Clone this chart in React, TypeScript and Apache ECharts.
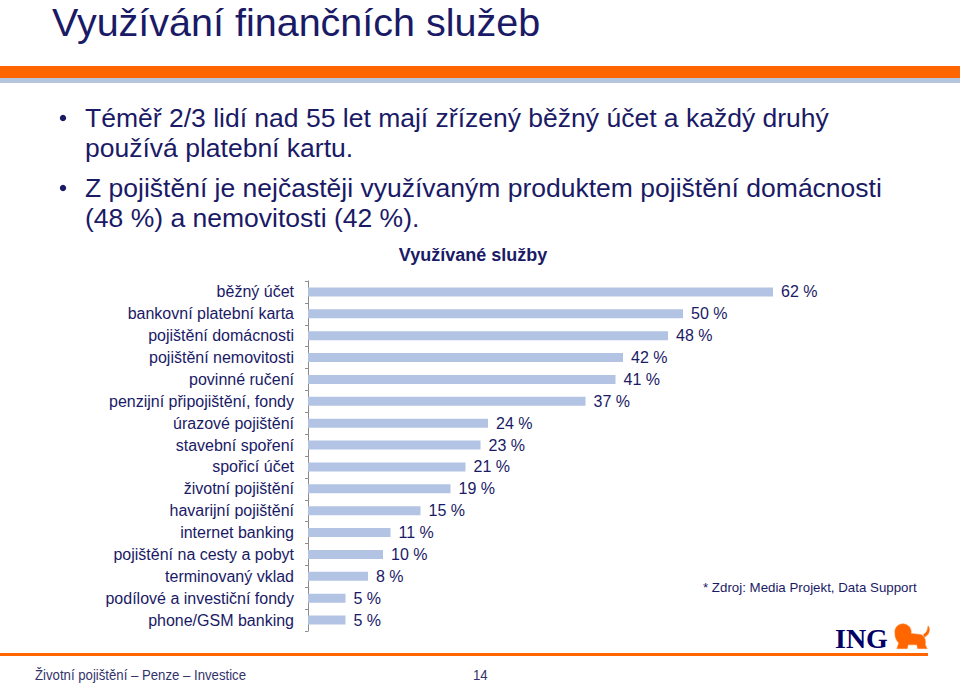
import React, { useEffect, useRef } from "react";
import * as echarts from "echarts";

const categories = [
  "běžný účet",
  "bankovní platební karta",
  "pojištění domácnosti",
  "pojištění nemovitosti",
  "povinné ručení",
  "penzijní připojištění, fondy",
  "úrazové pojištění",
  "stavební spoření",
  "spořicí účet",
  "životní pojištění",
  "havarijní pojištění",
  "internet banking",
  "pojištění na cesty a pobyt",
  "terminovaný vklad",
  "podílové a investiční fondy",
  "phone/GSM banking",
];
const values = [62, 50, 48, 42, 41, 37, 24, 23, 21, 19, 15, 11, 10, 8, 5, 5];

const pageTitle = "Využívání finančních služeb";
const bulletLines = [
  ["Téměř 2/3 lidí nad 55 let mají zřízený běžný účet a každý druhý", "používá platební kartu."],
  ["Z pojištění je nejčastěji využívaným produktem pojištění domácnosti", "(48 %) a nemovitosti (42 %)."],
];
const chartTitle = "Využívané služby";
const sourceNote = "* Zdroj: Media Projekt, Data Support";
const footerText = "Životní pojištění – Penze – Investice";
const pageNumber = "14";

const NAVY = "#1a1a66";
const ORANGE = "#ff6600";
const SANS = "Liberation Sans";

const lionPath =
  "M2,11 C1,4 7,0 12,1 C17,2 20,6 19,11 L29,12 C33,13 35,18 34,23 L36,27 L26,27 L25,23 L16,23 L15,27 L4,27 L6,21 C3,18 2,15 2,11 Z M33,15 C38,13 40,7 37,3 C36,6 37,9 32,12 Z";

let registered = false;

export default function App() {
  const ref = useRef<HTMLDivElement>(null);
  useEffect(() => {
    if (!ref.current) return;
    if (!registered) {
      echarts.graphic.registerShape("lion", echarts.graphic.extendPath(lionPath, {}) as any);
      registered = true;
    }
    const chart = echarts.init(ref.current, null, { renderer: "svg" });

    const bulletGraphics: any[] = [];
    const lineYs = [[118, 148], [188, 218]];
    bulletLines.forEach((lines, i) => {
      bulletGraphics.push({
        type: "circle",
        shape: { cx: 63, cy: lineYs[i][0], r: 3.2 },
        style: { fill: NAVY },
      });
      lines.forEach((t, j) => {
        bulletGraphics.push({
          type: "text",
          x: 85,
          y: lineYs[i][j],
          style: {
            text: t,
            fill: NAVY,
            fontFamily: SANS,
            fontSize: 26.5,
            textVerticalAlign: "middle",
          },
        });
      });
    });

    chart.setOption({
      animation: false,
      backgroundColor: "#ffffff",
      grid: { left: 308, top: 281, width: 600, height: 350, containLabel: false },
      xAxis: { type: "value", min: 0, max: 80, show: false },
      yAxis: {
        type: "category",
        data: categories,
        inverse: true,
        axisLine: { show: true, lineStyle: { color: "#8c8c8c", width: 1 } },
        axisTick: { show: true, length: 3, lineStyle: { color: "#8c8c8c" } },
        axisLabel: {
          margin: 14,
          color: NAVY,
          fontSize: 16,
          fontFamily: SANS,
        },
        splitLine: { show: false },
      },
      series: [
        {
          type: "bar",
          data: values,
          barWidth: 9,
          itemStyle: { color: "#b3c3e3" },
          label: {
            show: true,
            position: "right",
            distance: 8,
            formatter: "{c} %",
            color: NAVY,
            fontSize: 16,
            fontFamily: SANS,
          },
        },
      ],
      graphic: [
        {
          type: "text",
          x: 52,
          y: 22,
          style: {
            text: pageTitle,
            fill: NAVY,
            fontFamily: SANS,
            fontSize: 39.5,
            textVerticalAlign: "middle",
          },
        },
        { type: "rect", shape: { x: 0, y: 66, width: 960, height: 12 }, style: { fill: ORANGE } },
        { type: "rect", shape: { x: 0, y: 78, width: 960, height: 5 }, style: { fill: "#b5c5dd" } },
        ...bulletGraphics,
        {
          type: "text",
          x: 473,
          y: 255,
          style: {
            text: chartTitle,
            fill: NAVY,
            fontFamily: SANS,
            fontWeight: "bold",
            fontSize: 18,
            textAlign: "center",
            textVerticalAlign: "middle",
          },
        },
        {
          type: "text",
          x: 703,
          y: 587,
          style: {
            text: sourceNote,
            fill: NAVY,
            fontFamily: SANS,
            fontSize: 13.3,
            textVerticalAlign: "middle",
          },
        },
        {
          type: "text",
          x: 835,
          y: 638,
          style: {
            text: "ING",
            fill: "#000066",
            fontFamily: "Liberation Serif",
            fontWeight: "bold",
            fontSize: 28,
            textVerticalAlign: "middle",
          },
        },
        {
          type: "lion",
          x: 893,
          y: 623,
          scaleX: 0.95,
          scaleY: 0.95,
          style: { fill: ORANGE, stroke: "#ff8a33", lineWidth: 0.5 },
        },
        { type: "rect", shape: { x: 0, y: 653, width: 928, height: 3 }, style: { fill: ORANGE } },
        {
          type: "text",
          x: 35,
          y: 675,
          scaleX: 0.88,
          style: {
            text: footerText,
            fill: "#33336b",
            fontFamily: SANS,
            fontSize: 15,
            textVerticalAlign: "middle",
          },
        },
        {
          type: "text",
          x: 473,
          y: 675,
          scaleX: 0.88,
          style: {
            text: pageNumber,
            fill: "#33336b",
            fontFamily: SANS,
            fontSize: 15,
            textVerticalAlign: "middle",
          },
        },
      ],
    });
    return () => chart.dispose();
  }, []);
  return (
    <div
      ref={ref}
      style={{ position: "fixed", left: 0, top: 0, width: 960, height: 687 }}
    />
  );
}
